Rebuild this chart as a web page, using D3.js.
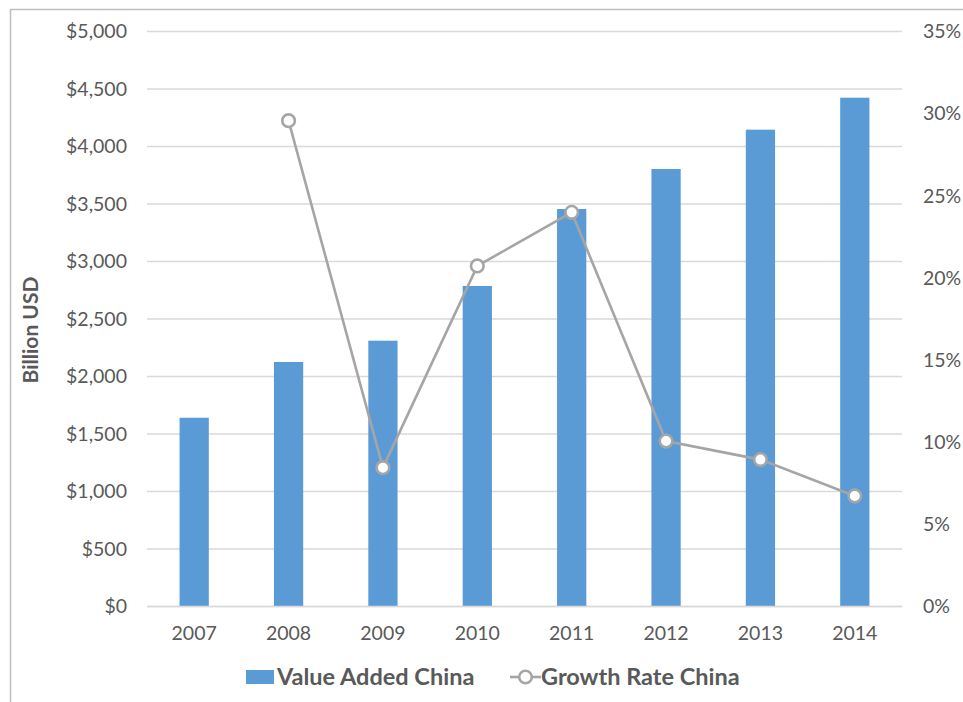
<!DOCTYPE html>
<html><head><meta charset="utf-8">
<script src="https://cdn.jsdelivr.net/npm/d3@7"></script>
<style>body{margin:0;background:#fff}svg{display:block}text{font-family:Lato,"Open Sans",sans-serif}</style>
</head><body>
<svg id="c" width="963" height="702"></svg>
<script>
const years = ["2007","2008","2009","2010","2011","2012","2013","2014"];
const valueAdded = [1637, 2122, 2307, 2783, 3452, 3800, 4142, 4420];
const growthRate = [null, 0.2954, 0.0842, 0.2070, 0.2396, 0.1004, 0.0891, 0.0670];
const leftTicks = [0,500,1000,1500,2000,2500,3000,3500,4000,4500,5000];
const rightTicks = [0,0.05,0.10,0.15,0.20,0.25,0.30,0.35];

const svg = d3.select("#c");
const m = {l:147, r:902, t:31, b:606};
const txt = "#595959", grid = "#d9d9d9", blue = "#5b9bd5", gray = "#a5a5a5";

svg.append("path").attr("d","M10.5,702V9.5H963").attr("fill","none").attr("stroke","#bfbfbf").attr("stroke-width",1.5);

const x = d3.scaleBand().domain(years).range([m.l,m.r]).paddingInner(0.69).paddingOuter(0.345);
const xc = d => x(d) + x.bandwidth()/2;
const yL = d3.scaleLinear().domain([0,5000]).range([m.b,m.t]);
const yR = d3.scaleLinear().domain([0,0.35]).range([m.b,m.t]);

// gridlines
const gl = svg.append("g").call(d3.axisLeft(yL).tickValues(leftTicks).tickSize(-(m.r-m.l)).tickFormat(""))
  .attr("transform",`translate(${m.l},0)`);
gl.select(".domain").remove();
gl.selectAll("line").attr("stroke",grid).attr("stroke-width",1.3);

// left labels
const la = svg.append("g").attr("transform",`translate(${m.l},0)`)
  .call(d3.axisLeft(yL).tickValues(leftTicks).tickSize(0).tickPadding(20).tickFormat(d=>"$"+d3.format(",")(d)));
la.select(".domain").remove();
la.selectAll("text").attr("fill",txt).style("font-size","19.5px").attr("dy","0.35em");

// right labels
const ra = svg.append("g").attr("transform",`translate(${m.r},0)`)
  .call(d3.axisRight(yR).tickValues(rightTicks).tickSize(0).tickPadding(21).tickFormat(d3.format(".0%")));
ra.select(".domain").remove();
ra.selectAll("text").attr("fill",txt).style("font-size","19.5px").attr("dy","0.35em");

// bars
svg.append("g").selectAll("rect").data(years).join("rect")
  .attr("x",d=>x(d)).attr("width",x.bandwidth())
  .attr("y",(d,i)=>yL(valueAdded[i])).attr("height",(d,i)=>yL(0)-yL(valueAdded[i]))
  .attr("fill",blue);

// x axis
const xa = svg.append("g").attr("transform",`translate(0,${m.b})`)
  .call(d3.axisBottom(x).tickSize(0).tickPadding(20));
xa.select(".domain").attr("stroke",grid).attr("stroke-width",1.5);
xa.selectAll("text").attr("fill",txt).style("font-size","19.5px");

// line
const pts = years.map((d,i)=>({d, v:growthRate[i]})).filter(p=>p.v!==null);
svg.append("path").datum(pts)
  .attr("d", d3.line().x(p=>xc(p.d)).y(p=>yR(p.v)))
  .attr("fill","none").attr("stroke",gray).attr("stroke-width",2.6);
svg.append("g").selectAll("circle").data(pts).join("circle")
  .attr("cx",p=>xc(p.d)).attr("cy",p=>yR(p.v)).attr("r",6.3)
  .attr("fill","#fff").attr("stroke",gray).attr("stroke-width",2.6);

// y title
svg.append("text").attr("transform","translate(38,330) rotate(-90)")
  .attr("text-anchor","middle").attr("fill",txt).style("font-size","21px").style("font-weight","bold")
  .text("Billion USD");

// legend
const lg = svg.append("g");
lg.append("rect").attr("x",246).attr("y",670).attr("width",28).attr("height",14).attr("fill",blue);
lg.append("text").attr("x",277).attr("y",685).attr("fill",txt).style("font-size","23.5px").style("font-weight","bold").text("Value Added China");
lg.append("line").attr("x1",510).attr("x2",541).attr("y1",677).attr("y2",677).attr("stroke",gray).attr("stroke-width",2.6);
lg.append("circle").attr("cx",525.5).attr("cy",677).attr("r",6.3).attr("fill","#fff").attr("stroke",gray).attr("stroke-width",2.6);
lg.append("text").attr("x",541).attr("y",685).attr("fill",txt).style("font-size","23.5px").style("font-weight","bold").text("Growth Rate China");
</script>
</body></html>
